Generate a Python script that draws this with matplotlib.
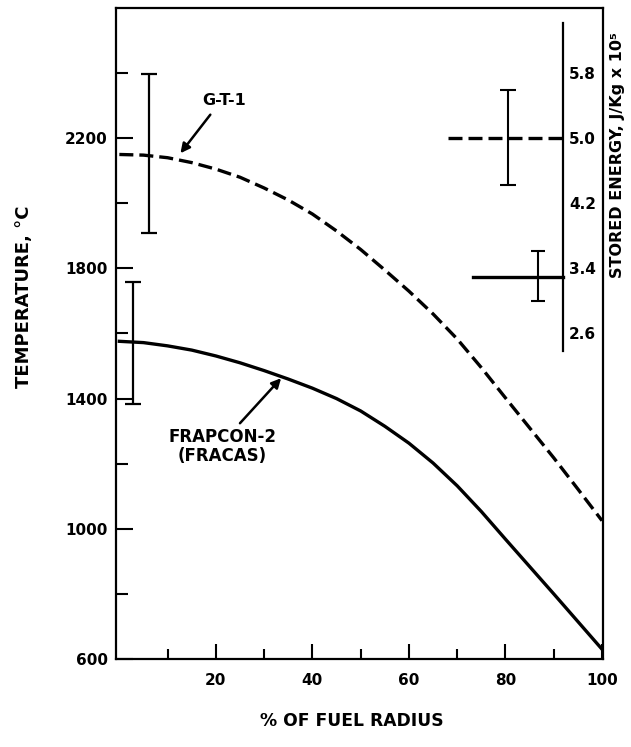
import numpy as np
import matplotlib
matplotlib.use("Agg")
import matplotlib.pyplot as plt
from matplotlib.ticker import FixedLocator

plt.rcParams['font.family'] = ['DejaVu Sans']
plt.rcParams['font.weight'] = 'bold'

# temperature profiles (% of fuel radius vs deg C)
gt1_x = [0, 5, 10, 15, 20, 25, 30, 35, 40, 45, 50, 55, 60, 65, 70, 75, 80, 85, 90, 95, 100]
gt1_T = [2150, 2148, 2140, 2125, 2105, 2080, 2047, 2010, 1967, 1915, 1858, 1795,
         1730, 1660, 1583, 1495, 1402, 1310, 1218, 1122, 1025]
frap_x = [0, 5, 10, 15, 20, 25, 30, 35, 40, 45, 50, 55, 60, 65, 70, 75, 80, 85, 90, 95, 100]
frap_T = [1576, 1572, 1562, 1549, 1531, 1510, 1486, 1460, 1432, 1400, 1362, 1315,
          1263, 1202, 1132, 1053, 968, 884, 800, 715, 630]

# centre-line temperature uncertainty bars
gt1_bar_x, gt1_bar_T, gt1_bar_lo, gt1_bar_hi = 6.1, 2150, 1908, 2396
frap_bar_x, frap_bar_T, frap_bar_lo, frap_bar_hi = 2.8, 1576, 1383, 1757

# stored energy (J/kg x 1e5)
gt1_E_x = [68, 92]
gt1_E = 5.0
gt1_E_bar = (80.5, 4.42, 5.59)
frap_E_x = [73.3, 92]
frap_E = 3.29
frap_E_bar = (86.7, 3.00, 3.61)
energy_ticks = [2.6, 3.4, 4.2, 5.0, 5.8]
energy_axis_x = 92
energy_axis_span = (2.39, 6.41)


def e2t(e):
    return 2200 + (np.asarray(e) - 5.0) * 250.0


def t2e(t):
    return 5.0 + (np.asarray(t) - 2200) / 250.0


fig = plt.figure(figsize=(6.31, 7.47), dpi=100)
ax = fig.add_axes([0.1838, 0.1178, 0.7718, 0.8715])

ax.plot(gt1_x, gt1_T, color='black', lw=2.4, dashes=(4.2, 1.8))
ax.plot(frap_x, frap_T, color='black', lw=2.4)

ax.errorbar([gt1_bar_x], [gt1_bar_T],
            yerr=[[gt1_bar_T - gt1_bar_lo], [gt1_bar_hi - gt1_bar_T]],
            fmt='none', ecolor='black', elinewidth=1.6, capsize=6, capthick=1.6)
ax.errorbar([frap_bar_x], [frap_bar_T],
            yerr=[[frap_bar_T - frap_bar_lo], [frap_bar_hi - frap_bar_T]],
            fmt='none', ecolor='black', elinewidth=1.6, capsize=6, capthick=1.6)

# stored energy marks
ax.plot(gt1_E_x, e2t([gt1_E, gt1_E]), color='black', lw=2.4, dashes=(4.2, 1.8))
ax.plot(frap_E_x, e2t([frap_E, frap_E]), color='black', lw=2.4)
ax.errorbar([gt1_E_bar[0]], [e2t(gt1_E)],
            yerr=[[e2t(gt1_E) - e2t(gt1_E_bar[1])], [e2t(gt1_E_bar[2]) - e2t(gt1_E)]],
            fmt='none', ecolor='black', elinewidth=1.5, capsize=6, capthick=1.5)
ax.errorbar([frap_E_bar[0]], [e2t(frap_E)],
            yerr=[[e2t(frap_E) - e2t(frap_E_bar[1])], [e2t(frap_E_bar[2]) - e2t(frap_E)]],
            fmt='none', ecolor='black', elinewidth=1.5, capsize=5, capthick=1.5)

ax.set_xlim(-0.7, 100.2)
ax.set_ylim(600, 2600)
ax.set_xticks([20, 40, 60, 80, 100])
ax.xaxis.set_minor_locator(FixedLocator([10, 30, 50, 70, 90]))
ax.set_yticks([600, 1000, 1400, 1800, 2200])
ax.yaxis.set_minor_locator(FixedLocator([800, 1200, 1600, 2000, 2400]))
ax.tick_params(which='both', direction='in', width=1.5, labelsize=11)
ax.tick_params(axis='x', which='major', length=11, pad=10)
ax.tick_params(axis='x', which='minor', length=7.5)
ax.tick_params(axis='y', which='major', length=12, pad=6)
ax.tick_params(axis='y', which='minor', length=8.5)
ax.tick_params(top=False, right=False, which='both')
for s in ax.spines.values():
    s.set_linewidth(1.6)

ax.set_xlabel('% OF FUEL RADIUS', fontsize=12.3, fontweight='bold')
ax.xaxis.set_label_coords(0.485, -0.082)
ax.set_ylabel('TEMPERATURE, °C', fontsize=13, fontweight='bold')
ax.yaxis.set_label_coords(-0.17, 0.556)

# inner stored-energy scale
sec = ax.secondary_yaxis((energy_axis_x + 0.7) / 100.9, functions=(t2e, e2t))
sec.set_yticks(energy_ticks)
sec.set_yticklabels([f'{v:.1f}' for v in energy_ticks])
sec.tick_params(length=0, pad=4, labelsize=11)
sec.spines['right'].set_bounds(*energy_axis_span)
sec.spines['right'].set_linewidth(1.6)

fig.text(0.978, 0.7925, 'STORED ENERGY, J/Kg x 10⁵', rotation=90,
         ha='center', va='center', fontsize=11.5, fontweight='bold')

# labels with arrows
ax.text(21.7, 2316, 'G-T-1', ha='center', va='center', fontsize=11.5)
ax.annotate('', xy=(12.3, 2147), xytext=(19.2, 2279),
            arrowprops=dict(arrowstyle='-|>', lw=1.8, color='black', mutation_scale=14))
ax.text(21.3, 1310, 'FRAPCON-2\n(FRACAS)', ha='center', va='top', fontsize=12,
        linespacing=1.1)
ax.annotate('', xy=(33.9, 1469), xytext=(24.6, 1318),
            arrowprops=dict(arrowstyle='-|>', lw=1.8, color='black', mutation_scale=14))

fig.savefig('out.png', dpi=100)
